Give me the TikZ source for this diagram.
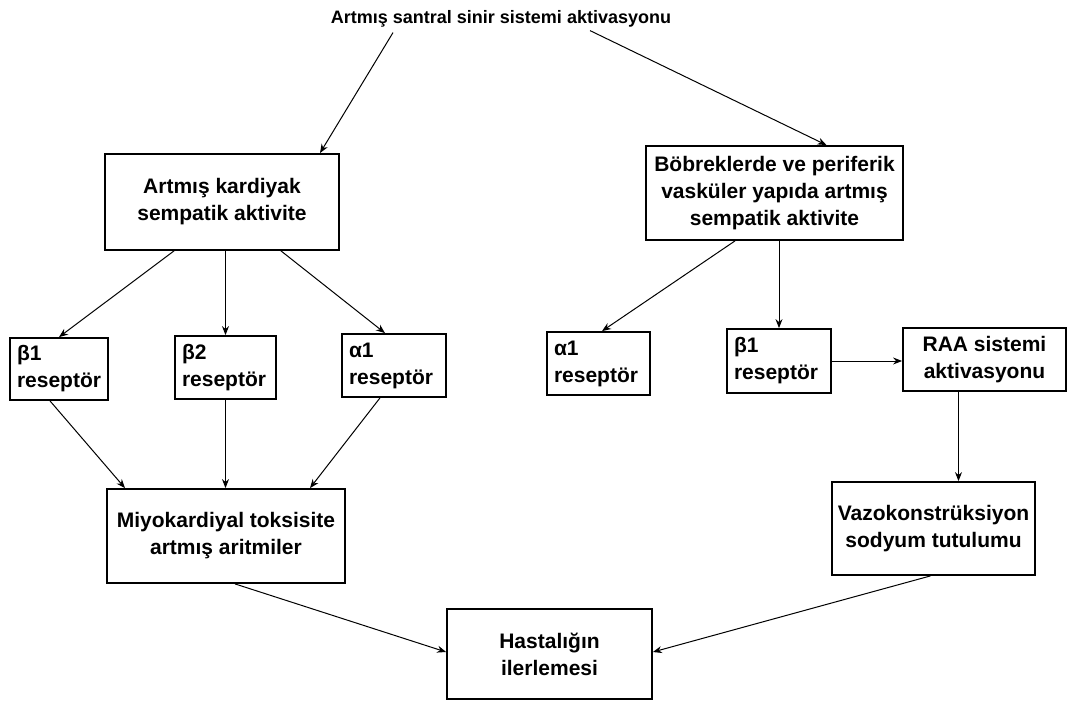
\documentclass[tikz,border=0pt]{standalone}
\usepackage{fontspec}
\setmainfont{Liberation Sans}
\usetikzlibrary{arrows.meta,calc}
\tikzset{
  box/.style={draw=black, line width=1.8pt, inner sep=0pt, align=center,
    font=\fontsize{21}{27}\selectfont\bfseries},
  recbox/.style={draw=black, line width=1.8pt, inner sep=0pt, align=left,
    text width=#1, font=\fontsize{21}{27}\selectfont\bfseries},
  recbox/.default=90pt,
  arr/.style={draw=black, line width=1pt, -{Stealth[length=9pt,width=7pt]}},
  toptext/.style={inner sep=1pt, font=\fontsize{18}{22}\selectfont\bfseries}
}
\begin{document}
\begin{tikzpicture}[x=1pt,y=-1pt]
\useasboundingbox (0,0) rectangle (1071,704);
\node[toptext] (top) at (501,19) {Artmış santral sinir sistemi aktivasyonu};
\node[box, minimum width=234pt, minimum height=96pt] (A) at (222,202) {Artmış kardiyak\\sempatik aktivite};
\node[box, minimum width=257pt, minimum height=94pt] (B) at (774.5,193) {Böbreklerde ve periferik\\vasküler yapıda artmış\\sempatik aktivite};
\node[recbox=84pt, minimum width=98pt, minimum height=62pt, inner xsep=7pt] (b1L) at (59,369) {β1\\reseptör};
\node[recbox=87pt, minimum width=101pt, minimum height=63pt, inner xsep=7pt] (b2L) at (225.5,367.5) {β2\\reseptör};
\node[recbox=90pt, minimum width=104pt, minimum height=63pt, inner xsep=7pt] (a1L) at (394,365.5) {α1\\reseptör};
\node[recbox=89pt, minimum width=103pt, minimum height=63pt, inner xsep=7pt] (a1R) at (598.5,363.5) {α1\\reseptör};
\node[recbox=90pt, minimum width=104pt, minimum height=64pt, inner xsep=7pt] (b1R) at (779,361) {β1\\reseptör};
\node[box, minimum width=163pt, minimum height=63pt] (RAA) at (984.5,359.5) {RAA sistemi\\aktivasyonu};
\node[box, minimum width=238pt, minimum height=94pt] (M) at (226,536) {Miyokardiyal toksisite\\artmış aritmiler};
\node[box, minimum width=203pt, minimum height=93pt] (V) at (933.5,528.5) {Vazokonstrüksiyon\\sodyum tutulumu};
\node[box, minimum width=205pt, minimum height=90pt] (H) at (549.5,654) {Hastalığın\\ilerlemesi};

\draw[arr] ([xshift=-108pt,yshift=-4pt]top.south) -- ([xshift=98pt]A.north);
\draw[arr] ([xshift=89pt,yshift=-2pt]top.south) -- ([xshift=52pt]B.north);

\draw[arr] ([xshift=-48pt]A.south) -- (b1L.north);
\draw[arr] (b2L.north |- A.south) -- (b2L.north);
\draw[arr] ([xshift=59pt]A.south) -- ([xshift=-9pt]a1L.north);

\draw[arr] ([xshift=-9pt]b1L.south) -- ([xshift=-101pt]M.north);
\draw[arr] (b2L.south) -- (b2L.south |- M.north);
\draw[arr] ([xshift=-14pt]a1L.south) -- ([xshift=84pt]M.north);

\draw[arr] ([xshift=-39.5pt]B.south) -- ([xshift=3.5pt]a1R.north);
\draw[arr] (b1R.north |- B.south) -- (b1R.north);
\draw[arr] (b1R.east) -- (b1R.east -| RAA.west);
\draw[arr] ([xshift=-26pt]RAA.south) -- ([xshift=-26pt]RAA.south |- V.north);

\draw[arr] ([xshift=9pt]M.south) -- ([yshift=2pt]H.west);
\draw[arr] ([xshift=-3pt]V.south) -- ([yshift=2pt]H.east);
\end{tikzpicture}
\end{document}
